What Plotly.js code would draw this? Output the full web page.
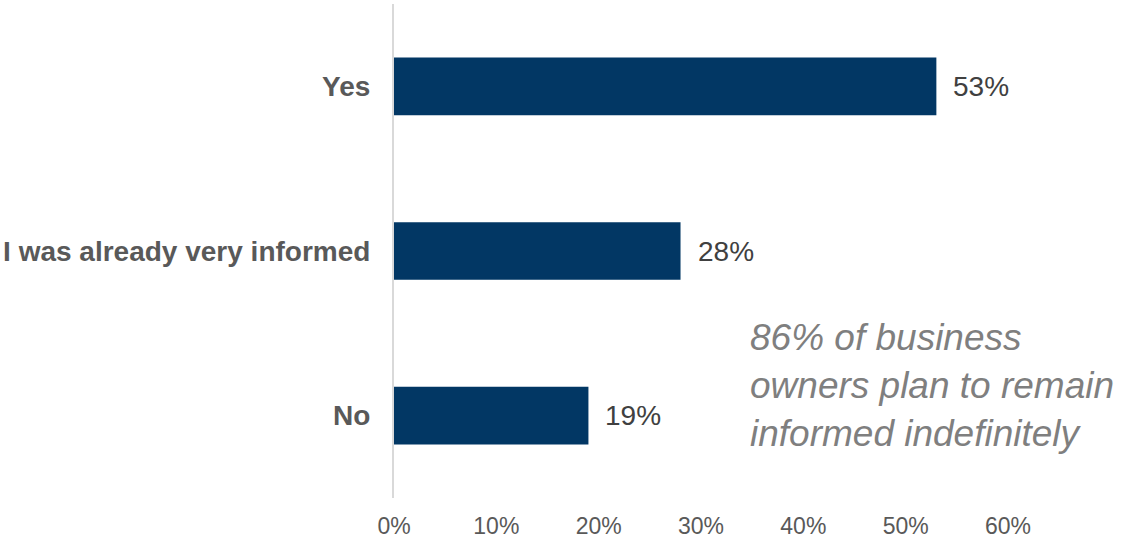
<!DOCTYPE html>
<html>
<head>
<meta charset="utf-8">
<script src="https://cdn.plot.ly/plotly-3.0.1.min.js"></script>
<style>
  html, body { margin: 0; padding: 0; background: #ffffff; }
  #chart { width: 1122px; height: 538px; }
</style>
</head>
<body>
<div id="chart"></div>
<script>
const categories = ['Yes', 'I was already very informed', 'No'];
const values = [0.53, 0.28, 0.19];
const tickValues = [0, 0.1, 0.2, 0.3, 0.4, 0.5, 0.6];
const tickLabels = ['0%', '10%', '20%', '30%', '40%', '50%', '60%'];
const noteLines = ['86% of business', 'owners plan to remain', 'informed indefinitely'];

const FONT = '"Liberation Sans", Arial, Helvetica, sans-serif';

const trace = {
  type: 'bar',
  orientation: 'h',
  y: categories,
  x: values,
  marker: { color: '#023764' },
  hoverinfo: 'skip'
};

const valueAnnotations = values.map((v, i) => ({
  x: v,
  y: categories[i],
  xref: 'x',
  yref: 'y',
  text: Math.round(v * 100) + '%',
  showarrow: false,
  xanchor: 'left',
  yanchor: 'middle',
  xshift: 15,
  font: { family: FONT, size: 28, color: '#404040' }
}));

const noteAnnotation = {
  xref: 'paper',
  yref: 'paper',
  x: 0.576,
  y: 0.227,
  xanchor: 'left',
  yanchor: 'middle',
  align: 'left',
  showarrow: false,
  text: noteLines.join('<br>'),
  font: { family: FONT, size: 37, color: '#7f7f7f', style: 'italic' }
};

const layout = {
  width: 1122,
  height: 538,
  margin: { l: 394, r: 114, t: 4, b: 40, pad: 0 },
  paper_bgcolor: '#ffffff',
  plot_bgcolor: '#ffffff',
  showlegend: false,
  bargap: 0.65,
  font: { family: FONT },
  xaxis: {
    range: [0, 0.6],
    tickvals: tickValues,
    ticktext: tickLabels,
    showgrid: false,
    zeroline: false,
    showline: false,
    ticks: '',
    ticklabelstandoff: 12,
    tickfont: { family: FONT, size: 23, color: '#595959' },
    fixedrange: true
  },
  yaxis: {
    type: 'category',
    categoryorder: 'array',
    categoryarray: categories,
    autorange: 'reversed',
    showgrid: false,
    zeroline: false,
    showline: true,
    linecolor: '#d9d9d9',
    linewidth: 2,
    ticks: '',
    ticklabelstandoff: 16,
    tickfont: { family: FONT, size: 28, color: '#595959', weight: 'bold' },
    fixedrange: true
  },
  annotations: valueAnnotations.concat([noteAnnotation])
};

Plotly.newPlot('chart', [trace], layout, { displayModeBar: false, staticPlot: true });
</script>
</body>
</html>
